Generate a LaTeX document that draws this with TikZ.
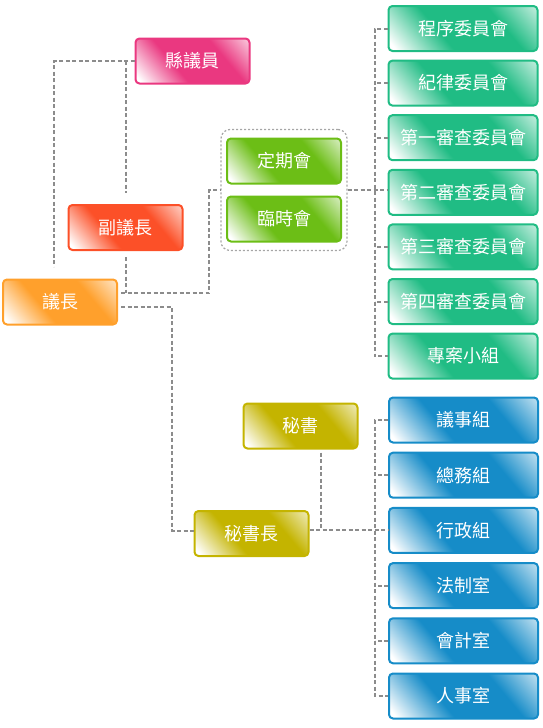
\documentclass[tikz,border=0pt]{standalone}
\usepackage{fontspec}
\setmainfont{Noto Sans CJK TC}
\usetikzlibrary{positioning, calc, fit}

\definecolor{xianc}{RGB}{234,56,128}
\definecolor{fuc}{RGB}{252,80,40}
\definecolor{yzc}{RGB}{255,160,44}
\definecolor{huic}{RGB}{108,190,22}
\definecolor{weic}{RGB}{32,188,132}
\definecolor{mishuc}{RGB}{196,180,0}
\definecolor{zuc}{RGB}{22,140,200}

% glossy fill: white at lower left, pale at upper right
\newcommand\glossshade[1]{%
  \pgfdeclarehorizontalshading{gloss#1}{100bp}{color(0bp)=(white); color(18bp)=(white); color(40bp)=(#1); color(66bp)=(#1); color(84bp)=(#1!30!white); color(100bp)=(#1!30!white)}}
\glossshade{xianc}
\glossshade{fuc}
\glossshade{yzc}
\glossshade{huic}
\glossshade{weic}
\glossshade{mishuc}
\glossshade{zuc}

\begin{document}
\begin{tikzpicture}[x=1pt, y=1pt,
    box/.style={rectangle, rounded corners=4pt, line width=2pt, minimum width=114pt, minimum height=45pt, inner sep=0pt, text=white, font=\fontsize{18}{20}\selectfont},
    wide/.style={minimum width=149pt},
    gloss/.style={box, draw=#1, shade, shading=gloss#1, shading angle=40},
    link/.style={draw=gray!90, line width=2pt, dash pattern=on 4pt off 2.5pt},
    grpbox/.style={draw=gray!70, line width=1.2pt, dash pattern=on 2pt off 2pt, rounded corners=9pt, inner xsep=5pt, inner ysep=8pt}
]
    \useasboundingbox (0,0) rectangle (543,-728);

    % Council heads
    \node[gloss=xianc] (xian) at (192.5,-61) {縣議員};
    \node[gloss=fuc] (fu) at (125.5,-227.5) {副議長};
    \node[gloss=yzc] (yz) at (60,-302) {議長};

    % Sessions
    \node[gloss=huic] (dq) at (284,-161) {定期會};
    \node[gloss=huic, below=11pt of dq] (ls) {臨時會};
    \node[grpbox, fit=(dq) (ls)] (grp) {};

    % Committees
    \node[gloss=weic, wide] (c1) at (463,-28.5) {程序委員會};
    \node[gloss=weic, wide, below=7.6pt of c1] (c2) {紀律委員會};
    \node[gloss=weic, wide, below=7.6pt of c2] (c3) {第一審查委員會};
    \node[gloss=weic, wide, below=7.6pt of c3] (c4) {第二審查委員會};
    \node[gloss=weic, wide, below=7.6pt of c4] (c5) {第三審查委員會};
    \node[gloss=weic, wide, below=7.6pt of c5] (c6) {第四審查委員會};
    \node[gloss=weic, wide, below=7.6pt of c6] (c7) {專案小組};

    % Secretariat
    \node[gloss=mishuc] (ms) at (300.5,-426) {秘書};
    \node[gloss=mishuc] (msz) at (251.5,-533.5) {秘書長};

    \node[gloss=zuc, wide] (b1) at (463.5,-420) {議事組};
    \node[gloss=zuc, wide, below=8.2pt of b1] (b2) {總務組};
    \node[gloss=zuc, wide, below=8.2pt of b2] (b3) {行政組};
    \node[gloss=zuc, wide, below=8.2pt of b3] (b4) {法制室};
    \node[gloss=zuc, wide, below=8.2pt of b4] (b5) {會計室};
    \node[gloss=zuc, wide, below=8.2pt of b5] (b6) {人事室};

    \coordinate (jn) at (209,-293);
    \coordinate (js) at (172,-530.5);
    \coordinate (mt) at ($(ms.south)+(20.5,0)$);

    % Connections
    \draw[link, shorten >=12pt] (xian.west) -| ($(yz.north)+(-6,0)$);
    \draw[link, shorten >=11pt] (xian.west -| fu.north) -- (fu.north);
    \draw[link, shorten <=6pt] (fu.south) -- (fu.south |- jn);
    \draw[link, shorten <=3pt] (yz.east |- jn) -- (jn) |- (grp.west);
    \draw[link] (grp.east) -- (grp.east -| c4.west);
    \draw[link] (c1.west) -- ++(-13,0) |- (c7.west);
    \foreach \i in {2,3,5,6} \draw[link] (c\i.west) -- ++(-13,0);

    \draw[link, shorten <=3pt] ($(yz.east)+(0,-5)$) -| (js) -- (js -| msz.west);
    \draw[link, shorten <=3pt] (mt) -- (mt |- b3.west);
    \draw[link] (msz.east |- b3.west) -- (b3.west);
    \draw[link] (b1.west) -- ++(-13,0) |- (b6.west);
    \foreach \i in {2,4,5} \draw[link] (b\i.west) -- ++(-13,0);
\end{tikzpicture}
\end{document}
